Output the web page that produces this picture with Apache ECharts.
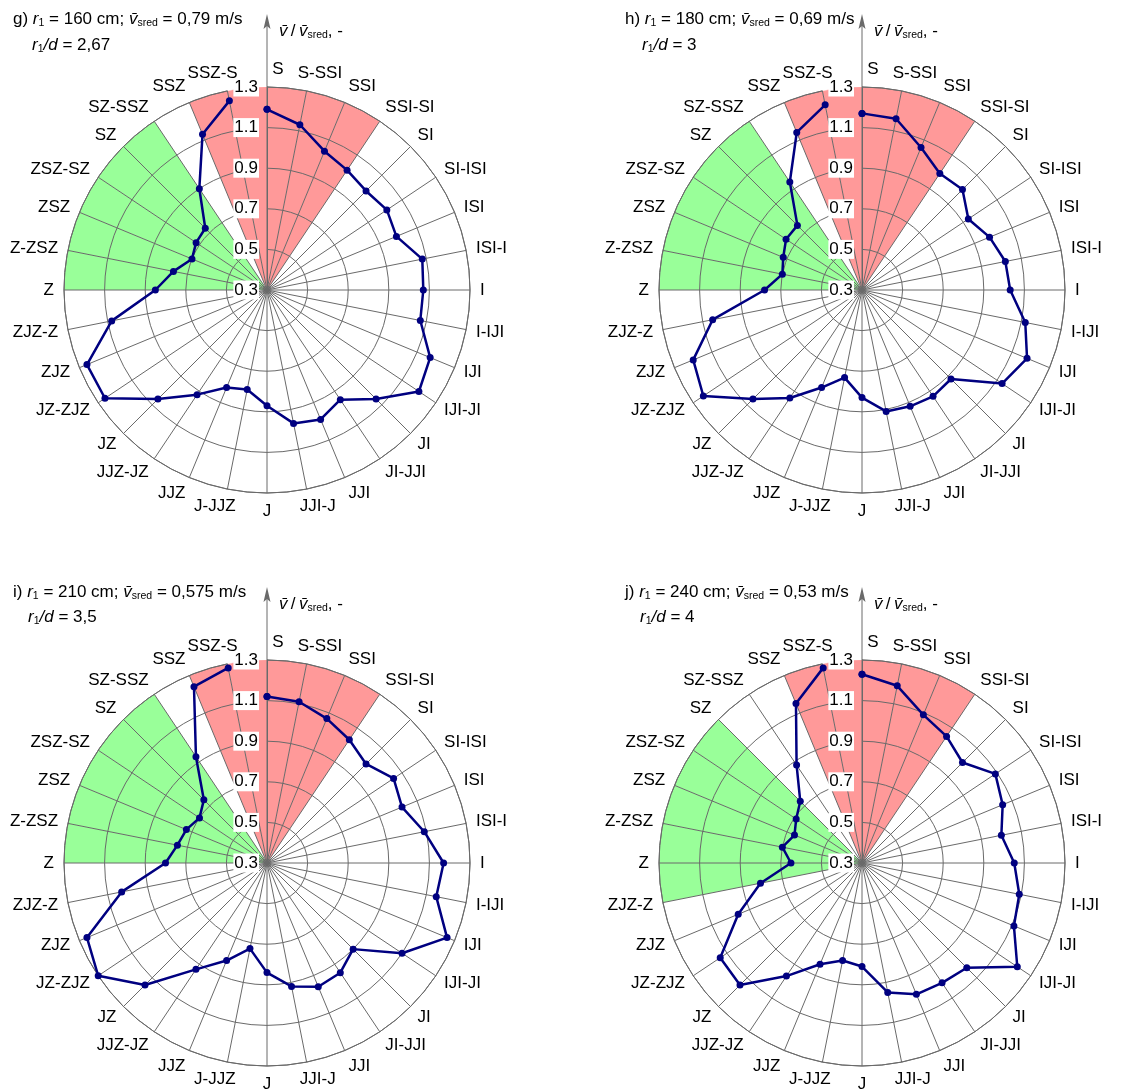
<!DOCTYPE html>
<html>
<head>
<meta charset="utf-8">
<script src="https://cdn.jsdelivr.net/npm/echarts@6/dist/echarts.min.js"></script>
<style>
  html, body { margin: 0; padding: 0; background: #fff; }
  #chart { width: 1127px; height: 1090px; }
</style>
</head>
<body>
<div id="chart"></div>
<script>
// 32 compass directions, clockwise from S (top)
const directions = ['S', 'S-SSI', 'SSI', 'SSI-SI', 'SI', 'SI-ISI', 'ISI', 'ISI-I',
  'I', 'I-IJI', 'IJI', 'IJI-JI', 'JI', 'JI-JJI', 'JJI', 'JJI-J',
  'J', 'J-JJZ', 'JJZ', 'JJZ-JZ', 'JZ', 'JZ-ZJZ', 'ZJZ', 'ZJZ-Z',
  'Z', 'Z-ZSZ', 'ZSZ', 'ZSZ-SZ', 'SZ', 'SZ-SSZ', 'SSZ', 'SSZ-S'];

// radial scale: relative velocity v / v_sred
const radialMin = 0.3;
const radialMax = 1.3;
const radialStep = 0.2;

// relative velocity in each direction
const velocityG = [1.19, 1.13, 1.04, 1.01, 0.99, 1.01, 0.99, 1.08, 1.07, 1.07, 1.17, 1.20, 1.06, 0.95, 0.99, 0.97,
  0.87, 0.80, 0.82, 0.92, 1.06, 1.26, 1.26, 1.08, 0.85, 0.77, 0.70, 0.72, 0.73, 0.90, 1.13, 1.25];
const velocityH = [1.17, 1.16, 1.06, 0.99, 1.00, 0.93, 0.98, 1.02, 1.03, 1.12, 1.18, 1.13, 0.92, 0.93, 0.92, 0.91,
  0.83, 0.74, 0.82, 0.94, 1.06, 1.24, 1.20, 1.05, 0.78, 0.70, 0.72, 0.75, 0.75, 0.94, 1.14, 1.23];
const velocityI = [1.12, 1.11, 1.07, 1.03, 0.99, 1.05, 1.02, 1.09, 1.17, 1.15, 1.26, 1.10, 0.90, 0.95, 0.96, 0.92,
  0.84, 0.73, 0.82, 0.93, 1.15, 1.30, 1.26, 1.03, 0.80, 0.75, 0.73, 0.70, 0.74, 0.93, 1.24, 1.28];
const velocityJ = [1.23, 1.19, 1.09, 1.05, 1.00, 1.09, 1.05, 1.00, 1.05, 1.09, 1.11, 1.22, 1.03, 1.01, 1.00, 0.95,
  0.81, 0.79, 0.84, 0.97, 1.15, 1.14, 0.96, 0.81, 0.65, 0.70, 0.66, 0.69, 0.73, 0.88, 1.15, 1.28];

// panel parameters
const panelLetters = ['g', 'h', 'i', 'j'];
const radiusR1 = ['160', '180', '210', '240'];
const meanVelocity = ['0,79', '0,69', '0,575', '0,53'];
const ratioR1d = ['2,67', '3', '3,5', '4'];

// shaded sectors [from direction, to direction], clockwise
const redSectors = [['SSZ', 'SSI-SI'], ['SSZ', 'SSI-SI'], ['SSZ', 'SSI-SI'], ['SSZ', 'SSI-SI']];
const greenSectors = [['Z', 'SZ-SSZ'], ['Z', 'SZ-SSZ'], ['Z', 'SZ-SSZ'], ['ZJZ-Z', 'SZ']];

const velocities = [velocityG, velocityH, velocityI, velocityJ];

// layout
const FONT = '"Liberation Sans", Arial, sans-serif';
const FONT_SIZE = 17;
const GRID = '#6a6a6a';
const LINE = '#000080';
const RED = '#ff9999';
const GREEN = '#99ff99';
const R = 203;
const LABEL_GAP = 10;
const centers = [[267, 290], [862, 290], [267, 863], [862, 863]];
const titlePos = [[13, 19, 32, 45], [625, 19, 642, 45], [13, 592, 28, 617], [625, 592, 640, 617]];

function sectorColors(k) {
  const n = directions.length;
  const cols = [];
  const inRange = (i, range) => {
    const a = directions.indexOf(range[0]);
    const b = directions.indexOf(range[1]);
    const span = (b - a + n) % n;
    return ((i - a + n) % n) < span;
  };
  for (let i = 0; i < n; i++) {
    if (inRange(i, redSectors[k])) cols.push(RED);
    else if (inRange(i, greenSectors[k])) cols.push(GREEN);
    else cols.push('rgba(255,255,255,0)');
  }
  return cols;
}

const richBase = {
  n: { fontSize: FONT_SIZE, fontFamily: FONT, color: '#000', lineHeight: 20 },
  i: { fontSize: FONT_SIZE, fontFamily: FONT, color: '#000', fontStyle: 'italic', lineHeight: 20 },
  sub: { fontSize: 10.5, fontFamily: FONT, color: '#000', verticalAlign: 'bottom', lineHeight: 11 }
};

const polar = [], angleAxis = [], radiusAxis = [], series = [];
const nPanels = centers.length;

// background polars: shaded sectors only
centers.forEach((c, k) => {
  polar.push({ center: c, radius: R });
  angleAxis.push({
    polarIndex: k, type: 'category', data: directions, boundaryGap: false,
    startAngle: 90, clockwise: true,
    axisLine: { show: false },
    axisTick: { show: false, interval: 0 },
    axisLabel: { show: false, interval: 0 },
    splitLine: { show: false, interval: 0 },
    splitArea: { show: true, interval: 0, areaStyle: { color: sectorColors(k) } },
    z: 0
  });
  radiusAxis.push({
    polarIndex: k, type: 'value', min: radialMin, max: radialMax, interval: radialStep,
    axisLine: { show: false }, axisTick: { show: false }, axisLabel: { show: false },
    splitLine: { show: false }, z: 0
  });
});

// foreground polars: grid, radial labels and velocity profile
centers.forEach((c, k) => {
  const p = nPanels + k;
  polar.push({ center: c, radius: R });
  angleAxis.push({
    polarIndex: p, type: 'category', data: directions, boundaryGap: false,
    startAngle: 90, clockwise: true,
    axisLine: { show: true, lineStyle: { color: GRID, width: 1 } },
    axisTick: { show: false, interval: 0 },
    axisLabel: { show: false, interval: 0 },
    splitLine: { show: true, interval: 0, lineStyle: { color: GRID, width: 1 } },
    z: 2
  });
  radiusAxis.push({
    polarIndex: p, type: 'value', min: radialMin, max: radialMax, interval: radialStep,
    axisLine: { show: true, lineStyle: { color: GRID, width: 1 } },
    axisTick: { show: false },
    axisLabel: {
      fontSize: FONT_SIZE, fontFamily: FONT, color: '#000',
      margin: 8, backgroundColor: '#fff', padding: [2, 1, 0, 1],
      formatter: (v) => v.toFixed(1)
    },
    splitLine: { show: true, lineStyle: { color: GRID, width: 1 } },
    z: 3
  });
  const vals = velocities[k];
  const data = vals.map((v, i) => [v, directions[i]]);
  data.push([vals[0], directions[0]]);
  series.push({
    type: 'line', coordinateSystem: 'polar', polarIndex: p,
    data: data, clip: false,
    symbol: 'circle', symbolSize: 7,
    lineStyle: { color: LINE, width: 2.5 },
    itemStyle: { color: LINE },
    animation: false, z: 5
  });
});

const chart = echarts.init(document.getElementById('chart'), null, { renderer: 'canvas' });
chart.setOption({ animation: false, backgroundColor: '#fff', polar, angleAxis, radiusAxis, series });

// text measuring for direction labels
const measureCtx = document.createElement('canvas').getContext('2d');
measureCtx.font = FONT_SIZE + 'px "Liberation Sans", Arial, sans-serif';

const elements = [];
centers.forEach((c, k) => {
  const finder = { seriesIndex: k };
  const origin = chart.convertToPixel(finder, [radialMin, 0]);
  const cx = origin[0], cy = origin[1];
  const top = chart.convertToPixel(finder, [radialMax, 0]);
  const rOuter = Math.hypot(top[0] - cx, top[1] - cy);

  // direction labels around the rim
  directions.forEach((name, i) => {
    const rim = chart.convertToPixel(finder, [radialMax, i]);
    const ux = (rim[0] - cx) / rOuter, uy = (rim[1] - cy) / rOuter;
    const px = rim[0] + ux * LABEL_GAP, py = rim[1] + uy * LABEL_GAP;
    const w = measureCtx.measureText(name).width;
    const f = Math.min(1, Math.abs(ux) / 0.38) * Math.sign(ux);
    let x = px + f * w / 2;
    const y = py + 8 * uy * Math.abs(uy);
    if (Math.abs(ux) < 0.01 && uy < 0) x += 11;   // keep clear of the axis arrow
    elements.push({
      type: 'text', silent: true, z: 4, x: x, y: y,
      style: { text: name, fontSize: FONT_SIZE, fontFamily: FONT, fill: '#000', align: 'center', verticalAlign: 'middle' }
    });
  });

  // radial axis arrow
  elements.push({
    type: 'line', silent: true, z: 4,
    shape: { x1: cx, y1: cy - rOuter, x2: cx, y2: cy - 270 },
    style: { stroke: GRID, lineWidth: 1 }
  });
  elements.push({
    type: 'polygon', silent: true, z: 4,
    shape: { points: [[cx, cy - 276], [cx - 3.5, cy - 261], [cx, cy - 264], [cx + 3.5, cy - 261]] },
    style: { fill: GRID }
  });
  // radial axis name
  elements.push({
    type: 'text', silent: true, z: 4, x: cx + 12, y: cy - 259,
    style: { text: '{i|v\u0304} {n|/} {i|v\u0304}{sub|sred}{n|, -}', rich: richBase, verticalAlign: 'middle', align: 'left' }
  });
  // panel title
  const tp = titlePos[k];
  elements.push({
    type: 'text', silent: true, z: 4, x: tp[0], y: tp[1],
    style: {
      text: '{n|' + panelLetters[k] + ') }{i|r}{sub|1}{n| = ' + radiusR1[k] + ' cm; }{i|v\u0304}{sub|sred}{n| = ' + meanVelocity[k] + ' m/s}',
      rich: richBase, verticalAlign: 'middle', align: 'left'
    }
  });
  elements.push({
    type: 'text', silent: true, z: 4, x: tp[2], y: tp[3],
    style: { text: '{i|r}{sub|1}{i|/d}{n| = ' + ratioR1d[k] + '}', rich: richBase, verticalAlign: 'middle', align: 'left' }
  });
});

chart.setOption({ graphic: { elements: elements } });
</script>
</body>
</html>
